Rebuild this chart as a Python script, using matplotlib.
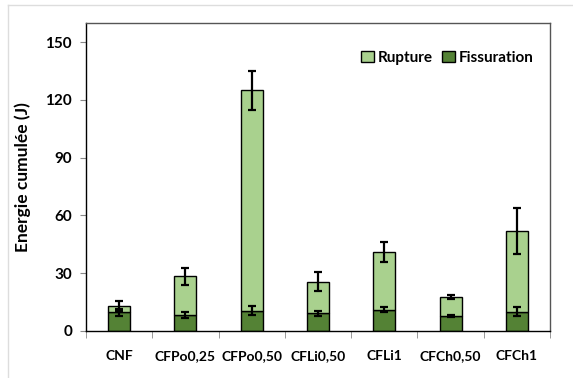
import matplotlib
matplotlib.use("Agg")
import matplotlib.pyplot as plt
import numpy as np
from matplotlib.lines import Line2D
from matplotlib.patches import Patch

categories = ["CNF", "CFPo0,25", "CFPo0,50", "CFLi0,50", "CFLi1", "CFCh0,50", "CFCh1"]
fissuration = [9.5, 8.0, 10.5, 9.0, 11.0, 7.7, 10.0]
rupture = [3.5, 20.3, 114.5, 16.5, 30.0, 9.8, 42.0]
fiss_err = [2.0, 1.5, 2.5, 1.3, 1.5, 0.3, 2.5]
total_err = [2.5, 4.5, 10.0, 5.0, 5.0, 1.0, 12.0]
yticks = [0, 30, 60, 90, 120, 150]

plt.rcParams['font.family'] = ['Lato', 'DejaVu Sans']
fig = plt.figure(figsize=(5.73, 3.78), dpi=100)
ax = fig.add_axes([0.150, 0.125, 0.810, 0.814])

x = np.arange(len(categories))
w = 0.33
light = "#a9d18e"
dark = "#548235"
totals = np.array(fissuration) + np.array(rupture)

ax.bar(x, fissuration, w, color=dark, edgecolor="black", linewidth=1.0, zorder=2)
ax.bar(x, rupture, w, bottom=fissuration, color=light, edgecolor="black", linewidth=1.0, zorder=2)
ax.errorbar(x, totals, yerr=total_err, fmt="none", ecolor="black", elinewidth=1.6, capsize=3, capthick=1.6, zorder=3)
ax.errorbar(x, fissuration, yerr=fiss_err, fmt="none", ecolor="black", elinewidth=1.6, capsize=3, capthick=1.6, zorder=3)

ax.set_xlim(-0.5, len(categories) - 0.5)
ax.set_ylim(0, 160)
ax.set_yticks(yticks)
ax.set_yticklabels([str(t) for t in yticks], fontsize=11, fontweight="bold")
ax.set_xticks(x)
ax.set_xticklabels(categories, fontsize=10, fontweight="bold")
ax.tick_params(axis="x", length=0, pad=14)
ax.set_xticks(np.arange(-0.5, len(categories) + 0.5, 1), minor=True)
ax.tick_params(axis="x", which="minor", length=5, color="#888888", direction="out")
ax.tick_params(axis="y", length=4, color="#888888", pad=6)
ax.set_ylabel("Energie cumulée (J)", fontsize=12.5, fontweight="bold", labelpad=10)
for s in ax.spines.values():
    s.set_color("black")
    s.set_linewidth(1.0)
ax.spines["right"].set_color("#555555")
ax.spines["top"].set_color("#555555")

handles = [Patch(facecolor=light, edgecolor="black", linewidth=1.0, label="Rupture"),
           Patch(facecolor=dark, edgecolor="black", linewidth=1.0, label="Fissuration")]
ax.legend(handles=handles, loc="upper right", ncol=2, frameon=False,
          prop={"weight": "bold", "size": 11}, handlelength=0.8, handleheight=0.8,
          handletextpad=0.3, columnspacing=0.6, bbox_to_anchor=(0.995, 0.955))

fig.add_artist(Line2D([8/573, 8/573], [0, 1 - 5/378], color="#dddddd", linewidth=1.0))
fig.add_artist(Line2D([8/573, 1], [1 - 5/378, 1 - 5/378], color="#dddddd", linewidth=1.0))

fig.savefig("out.png", dpi=100)
